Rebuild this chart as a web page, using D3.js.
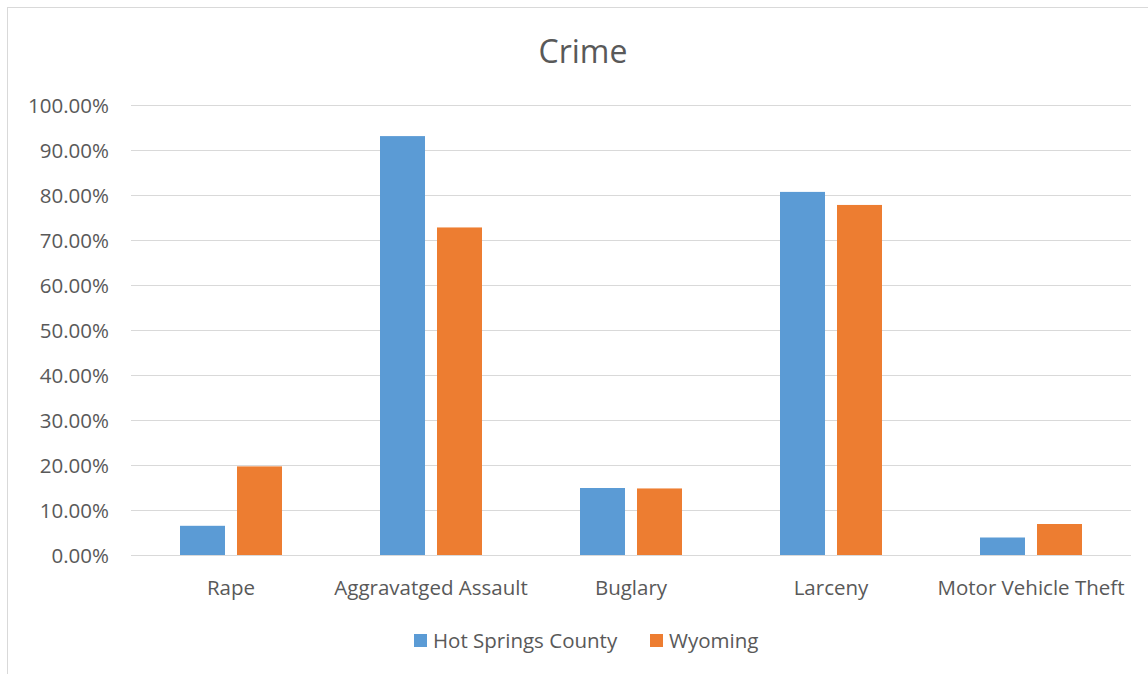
<!DOCTYPE html>
<html>
<head>
<meta charset="utf-8">
<script src="https://cdn.jsdelivr.net/npm/d3@7/dist/d3.min.js"></script>
<style>
  html, body { margin: 0; padding: 0; background: #fff; }
  text { font-family: "Open Sans", "Noto Sans", sans-serif; fill: #595959; }
</style>
</head>
<body>
<svg id="chart" width="1148" height="674"></svg>
<script>
// Crime rates by category
const categories = ["Rape", "Aggravatged Assault", "Buglary", "Larceny", "Motor Vehicle Theft"];
const seriesNames = ["Hot Springs County", "Wyoming"];
const hotSprings = [0.066, 0.932, 0.150, 0.808, 0.040];
const wyoming = [0.198, 0.729, 0.149, 0.779, 0.070];
const yTicks = [0, 0.1, 0.2, 0.3, 0.4, 0.5, 0.6, 0.7, 0.8, 0.9, 1.0];
const colors = ["#5b9bd5", "#ed7d31"];

const svg = d3.select("#chart");
const W = 1148, H = 674;

// chart frame
svg.append("rect")
  .attr("x", 7.5).attr("y", 7.5)
  .attr("width", W + 10).attr("height", H + 10)
  .attr("fill", "#fff").attr("stroke", "#d9d9d9").attr("stroke-width", 1);

const plot = { left: 131, right: 1131, top: 105.5, bottom: 555.5 };

const x = d3.scaleBand().domain(categories).range([plot.left, plot.right]);
const xs = d3.scaleBand().domain(seriesNames).range([0, 102]).paddingInner(12 / 57);
const y = d3.scaleLinear().domain([0, 1]).range([plot.bottom, plot.top]);

// gridlines
svg.append("g").selectAll("line").data(yTicks).join("line")
  .attr("x1", plot.left).attr("x2", plot.right)
  .attr("y1", d => y(d)).attr("y2", d => y(d))
  .attr("stroke", "#d9d9d9").attr("stroke-width", 1);

// y axis labels
const yAxis = d3.axisLeft(y).tickValues(yTicks).tickFormat(d => d3.format(".2%")(d)).tickSize(0).tickPadding(22);
const gy = svg.append("g").attr("transform", `translate(${plot.left},0)`).call(yAxis);
gy.select(".domain").remove();
gy.selectAll("text").style("font-size", "20.5px").attr("fill", "#595959")
  .style("font-family", "'Open Sans', sans-serif");

// bars
const rows = categories.map((c, i) => ({ cat: c, vals: [hotSprings[i], wyoming[i]] }));
const groups = svg.append("g").selectAll("g").data(rows).join("g")
  .attr("transform", d => `translate(${x(d.cat) + x.bandwidth() / 2 - 51},0)`);
groups.selectAll("rect").data(d => d.vals.map((v, j) => ({ s: seriesNames[j], v, j }))).join("rect")
  .attr("x", d => xs(d.s))
  .attr("width", xs.bandwidth())
  .attr("y", d => y(d.v))
  .attr("height", d => y(0) - y(d.v))
  .attr("fill", d => colors[d.j]);

// baseline
svg.append("line")
  .attr("x1", plot.left).attr("x2", plot.right)
  .attr("y1", y(0)).attr("y2", y(0))
  .attr("stroke", "#d9d9d9").attr("stroke-width", 1);

// x axis labels
const xAxis = d3.axisBottom(x).tickSize(0).tickPadding(25);
const gx = svg.append("g").attr("transform", `translate(0,${plot.bottom})`).call(xAxis);
gx.select(".domain").remove();
gx.selectAll("text").style("font-size", "20.5px").attr("fill", "#595959")
  .style("font-family", "'Open Sans', sans-serif");

// title
svg.append("text")
  .attr("x", 583).attr("y", 63)
  .attr("text-anchor", "middle")
  .style("font-size", "32px")
  .text("Crime");

// legend
const legendX = [414, 650];
const lg = svg.append("g").selectAll("g").data(seriesNames).join("g")
  .attr("transform", (d, i) => `translate(${legendX[i]},634)`);
lg.append("rect").attr("width", 13).attr("height", 13).attr("fill", (d, i) => colors[i]);
lg.append("text").attr("x", 19).attr("y", 14).style("font-size", "20.5px").text(d => d);
</script>
</body>
</html>
